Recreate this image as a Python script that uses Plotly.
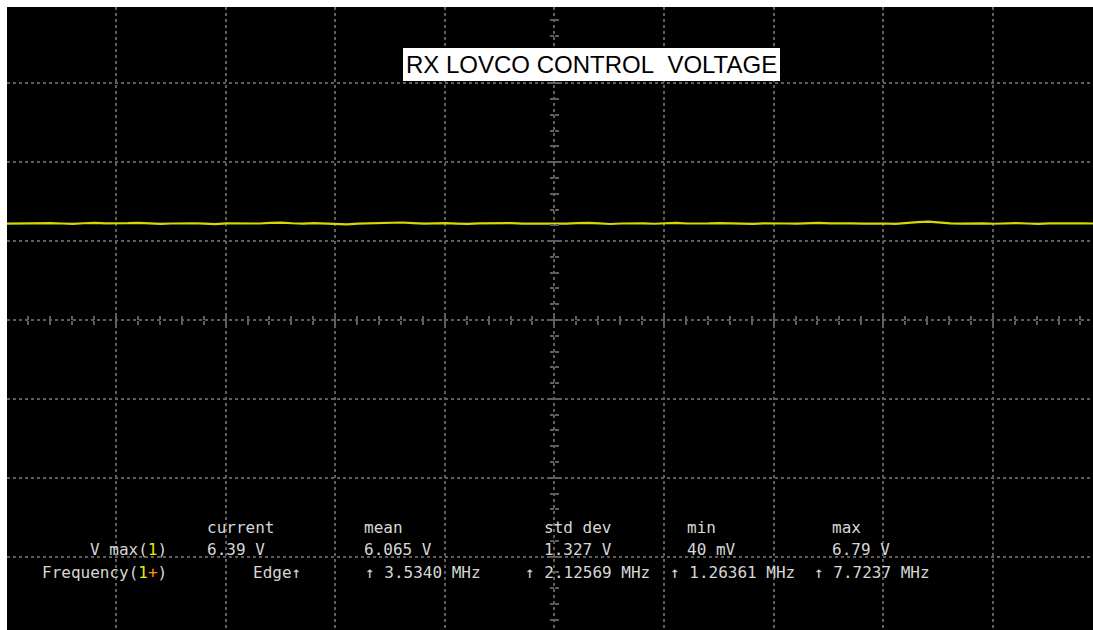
import numpy as np
import plotly.graph_objects as go

# ---------------- data ----------------
# trace level in graticule divisions (centre line = 0), 100 samples across the screen
trace_divs = [1.222, 1.225, 1.220, 1.224, 1.228, 1.223, 1.219, 1.226, 1.230, 1.224,
              1.221, 1.227, 1.232, 1.225, 1.218, 1.223, 1.229, 1.226, 1.221, 1.216,
              1.224, 1.222, 1.220, 1.223, 1.231, 1.235, 1.226, 1.222, 1.228, 1.224,
              1.219, 1.213, 1.222, 1.227, 1.224, 1.230, 1.236, 1.228, 1.221, 1.225,
              1.229, 1.222, 1.218, 1.224, 1.227, 1.233, 1.229, 1.221, 1.219, 1.226,
              1.224, 1.222, 1.228, 1.231, 1.224, 1.217, 1.223, 1.227, 1.225, 1.220,
              1.226, 1.230, 1.223, 1.219, 1.224, 1.229, 1.226, 1.222, 1.218, 1.225,
              1.228, 1.223, 1.221, 1.227, 1.232, 1.225, 1.220, 1.224, 1.222, 1.226,
              1.223, 1.219, 1.225, 1.240, 1.247, 1.232, 1.224, 1.221, 1.227, 1.224,
              1.220, 1.226, 1.229, 1.223, 1.218, 1.224, 1.227, 1.222, 1.225, 1.223]

title_text = "RX LOVCO CONTROL\u00a0\u00a0VOLTAGE"
header_labels = ["current", "mean", "std dev", "min", "max"]
vmax_values = ["6.39 V", "6.065 V", "1.327 V", "40 mV", "6.79 V"]
freq_values = ["Edge\u2191", "\u2191 3.5340 MHz", "\u2191 2.12569 MHz",
               "\u2191 1.26361 MHz", "\u2191 7.7237 MHz"]
vmax_label = "V max(<span style='color:#e8e800'>1</span>)"
freq_label = "Frequency(<span style='color:#e8e800'>1</span><span style='color:#ff9a00'>+</span>)"

# ---------------- geometry ----------------
W, H = 1093, 630
ML, MT = 7, 7
X0, DX = 554.4, 109.6   # centre pixel and pixels per division (x)
Y0, DY = 320.0, 78.9    # centre pixel and pixels per division (y)


def px_x(px):
    return (px - X0) / DX


def px_y(py):
    return (Y0 - py) / DY


xr = [px_x(ML), px_x(W)]
yr = [px_y(H), px_y(MT)]

t = np.linspace(xr[0], xr[1], len(trace_divs))

GRID = "#5e5e5e"
TXT = "#d6d6d6"

fig = go.Figure()
fig.add_trace(go.Scatter(x=t, y=trace_divs, mode="lines",
                         line=dict(color="#d8d800", width=2.2),
                         hoverinfo="skip", showlegend=False))

axis_common = dict(showticklabels=False, zeroline=False, showline=False,
                   fixedrange=True)
fig.update_layout(
    width=W, height=H,
    margin=dict(l=ML, r=0, t=MT, b=0, pad=0),
    paper_bgcolor="white", plot_bgcolor="black",
    showlegend=False,
    xaxis=dict(range=xr, dtick=1, tick0=0, showgrid=True, gridcolor=GRID,
               gridwidth=2, griddash="3px,3px", ticks="", **axis_common),
    yaxis=dict(range=yr, dtick=1, tick0=0, showgrid=True, gridcolor=GRID,
               gridwidth=2, griddash="3px,3px", ticks="", **axis_common),
)

# centre-line minor ticks via free-positioned overlay axes
cx_paper = (X0 - ML) / (W - ML)
cy_paper = (H - Y0) / (H - MT)
for name, side in (("xaxis2", "outside"), ("xaxis3", "inside")):
    fig.layout[name] = dict(range=xr, overlaying="x", anchor="free",
                            position=cy_paper, dtick=0.2, tick0=0,
                            ticks=side, ticklen=4, tickwidth=2,
                            tickcolor=GRID, showgrid=False, **axis_common)
for name, side in (("yaxis2", "outside"), ("yaxis3", "inside")):
    fig.layout[name] = dict(range=yr, overlaying="y", anchor="free",
                            position=cx_paper, dtick=0.2, tick0=0,
                            ticks=side, ticklen=4, tickwidth=2,
                            tickcolor=GRID, showgrid=False, **axis_common)
# dummy traces so the overlay axes are drawn
for xa, ya in (("x2", "y"), ("x3", "y"), ("x", "y2"), ("x", "y3")):
    fig.add_trace(go.Scatter(x=[xr[0]], y=[yr[0]], xaxis=xa, yaxis=ya,
                             mode="markers", marker=dict(opacity=0),
                             hoverinfo="skip", showlegend=False))

# title box
fig.add_annotation(x=px_x(591), y=px_y(64), xref="x", yref="y",
                   text=title_text, showarrow=False,
                   font=dict(family="Liberation Sans, Arial", size=24, color="black"),
                   bgcolor="white", borderpad=3, borderwidth=0)

# measurement readout
mono = dict(family="DejaVu Sans Mono, monospace", size=16, color=TXT)
header_x = [205, 362, 542, 685, 830]
vmax_x = [205, 362, 542, 685, 830]
freq_x = [251, 363, 523, 668, 812]
row_y = [527, 549.5, 572]

for lab, px in zip(header_labels, header_x):
    fig.add_annotation(x=px_x(px), y=px_y(row_y[0]), text=lab, showarrow=False,
                       xanchor="left", yanchor="middle", font=mono)
fig.add_annotation(x=px_x(88), y=px_y(row_y[1]), text=vmax_label, showarrow=False,
                   xanchor="left", yanchor="middle", font=mono)
for lab, px in zip(vmax_values, vmax_x):
    fig.add_annotation(x=px_x(px), y=px_y(row_y[1]), text=lab, showarrow=False,
                       xanchor="left", yanchor="middle", font=mono)
fig.add_annotation(x=px_x(40), y=px_y(row_y[2]), text=freq_label, showarrow=False,
                   xanchor="left", yanchor="middle", font=mono)
for lab, px in zip(freq_values, freq_x):
    fig.add_annotation(x=px_x(px), y=px_y(row_y[2]), text=lab, showarrow=False,
                       xanchor="left", yanchor="middle", font=mono)

fig.write_html("out.html", config={"displayModeBar": False},
               post_script="document.body.style.margin='0px';document.body.style.overflow='hidden';")
